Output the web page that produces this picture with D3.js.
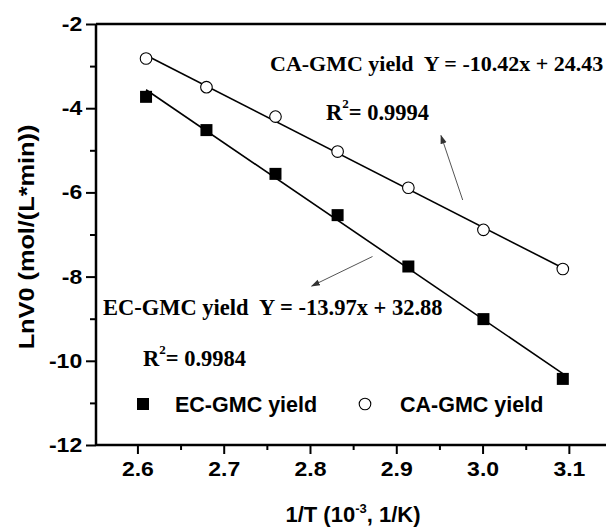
<!DOCTYPE html>
<html>
<head>
<meta charset="utf-8">
<script src="https://cdn.jsdelivr.net/npm/d3@7"></script>
<style>
  body { margin: 0; background: #fff; }
  svg { display: block; }
</style>
</head>
<body>
<div id="chart"></div>
<script>
// values
const invT = [2.610, 2.680, 2.760, 2.832, 2.914, 3.001, 3.093];
const ecYield = [-3.73, -4.52, -5.56, -6.54, -7.76, -9.01, -10.43];
const caYield = [-2.82, -3.50, -4.20, -5.03, -5.89, -6.89, -7.82];
const xTicks = [2.6, 2.7, 2.8, 2.9, 3.0, 3.1];
const xMinor = [2.65, 2.75, 2.85, 2.95, 3.05, 3.15];
const yTicks = [-12, -10, -8, -6, -4, -2];
const yMinor = [-11, -9, -7, -5, -3];
const seriesNames = ["EC-GMC yield", "CA-GMC yield"];

const svg = d3.select("#chart")
    .append("svg")
        .attr("width", 606)
        .attr("height", 529);

const x = d3.scaleLinear().domain([2.552, 3.15]).range([96, 612]);
const y = d3.scaleLinear().domain([-12, -2]).range([445, 24]);

// least squares line through the points
function fit(xs, ys) {
    const mx = d3.mean(xs), my = d3.mean(ys);
    let sxy = 0, sxx = 0;
    xs.forEach((v, i) => { sxy += (v - mx) * (ys[i] - my); sxx += (v - mx) * (v - mx); });
    const b = sxy / sxx;
    return { slope: b, icpt: my - b * mx };
}

// frame (right side falls outside the picture)
svg.append("line")
    .attr("x1", 96).attr("x2", 612).attr("y1", 24).attr("y2", 24)
    .attr("stroke", "black").attr("stroke-width", 2.5);

// axes
const xAxis = svg.append("g")
    .attr("transform", "translate(0,445)")
    .call(d3.axisBottom(x).tickValues(xTicks).tickFormat(d => d.toFixed(1)).tickSize(9).tickPadding(8));
svg.append("g")
    .attr("transform", "translate(0,445)")
    .call(d3.axisBottom(x).tickValues(xMinor).tickFormat("").tickSize(5))
    .select(".domain").remove();

const yAxis = svg.append("g")
    .attr("transform", "translate(96,0)")
    .call(d3.axisLeft(y).tickValues(yTicks).tickFormat(d => String(d)).tickSize(10).tickPadding(5));
svg.append("g")
    .attr("transform", "translate(96,0)")
    .call(d3.axisLeft(y).tickValues(yMinor).tickFormat("").tickSize(6))
    .select(".domain").remove();

xAxis.select(".domain").attr("d", "M96,0H612").attr("stroke-width", 2.5);
yAxis.select(".domain").attr("d", "M0,445V24").attr("stroke-width", 2.5);
svg.selectAll(".tick line").attr("stroke-width", 2);

xAxis.selectAll(".tick text")
    .attr("font-family", "Liberation Sans, Arial, sans-serif")
    .attr("font-weight", "bold")
    .attr("font-size", 20)
    .attr("transform", "scale(1.15,1)");
yAxis.selectAll(".tick text")
    .attr("font-family", "Liberation Sans, Arial, sans-serif")
    .attr("font-weight", "bold")
    .attr("font-size", 20)
    .attr("x", -12)
    .attr("transform", "scale(1.15,1)");

// fitted lines
const lineGen = d3.line().x(d => x(d[0])).y(d => y(d[1]));
[ecYield, caYield].forEach(vals => {
    const f = fit(invT, vals);
    const x0 = d3.min(invT), x1 = d3.max(invT);
    svg.append("path")
        .attr("d", lineGen([[x0, f.icpt + f.slope * x0], [x1, f.icpt + f.slope * x1]]))
        .attr("fill", "none")
        .attr("stroke", "black")
        .attr("stroke-width", 1.6);
});

// markers
svg.selectAll("rect.ec")
    .data(invT.map((v, i) => [v, ecYield[i]]))
    .enter()
    .append("rect")
        .attr("class", "ec")
        .attr("x", d => x(d[0]) - 6)
        .attr("y", d => y(d[1]) - 6)
        .attr("width", 12)
        .attr("height", 12)
        .attr("fill", "black");

svg.selectAll("circle.ca")
    .data(invT.map((v, i) => [v, caYield[i]]))
    .enter()
    .append("circle")
        .attr("class", "ca")
        .attr("cx", d => x(d[0]))
        .attr("cy", d => y(d[1]))
        .attr("r", 5.8)
        .attr("fill", "white")
        .attr("stroke", "black")
        .attr("stroke-width", 1.1);

// annotations
const serif = "Liberation Serif, Times New Roman, serif";
svg.append("text")
    .attr("x", 270).attr("y", 71)
    .attr("font-family", serif).attr("font-weight", "bold").attr("font-size", 22)
    .attr("xml:space", "preserve")
    .text("CA-GMC yield  Y = -10.42x + 24.43");
const r1 = svg.append("text")
    .attr("x", 326).attr("y", 120)
    .attr("font-family", serif).attr("font-weight", "bold").attr("font-size", 22.5);
r1.append("tspan").text("R");
r1.append("tspan").attr("dy", -12).attr("font-size", 13).text("2");
r1.append("tspan").attr("dy", 12).text("= 0.9994");

svg.append("text")
    .attr("x", 103).attr("y", 315)
    .attr("font-family", serif).attr("font-weight", "bold").attr("font-size", 22.5)
    .attr("xml:space", "preserve")
    .text("EC-GMC yield  Y = -13.97x + 32.88");
const r2 = svg.append("text")
    .attr("x", 143).attr("y", 366)
    .attr("font-family", serif).attr("font-weight", "bold").attr("font-size", 22.5);
r2.append("tspan").text("R");
r2.append("tspan").attr("dy", -12).attr("font-size", 13).text("2");
r2.append("tspan").attr("dy", 12).text("= 0.9984");

// arrows
svg.append("defs").append("marker")
    .attr("id", "head")
    .attr("viewBox", "0 0 10 10")
    .attr("refX", 9).attr("refY", 5)
    .attr("markerWidth", 9).attr("markerHeight", 9)
    .attr("markerUnits", "userSpaceOnUse")
    .attr("orient", "auto")
    .append("path")
        .attr("d", "M0,1.5L10,5L0,8.5Z")
        .attr("fill", "#333");
svg.append("line")
    .attr("x1", 462.7).attr("y1", 200).attr("x2", 441).attr("y2", 135.5)
    .attr("stroke", "#555").attr("stroke-width", 1)
    .attr("marker-end", "url(#head)");
svg.append("line")
    .attr("x1", 372.5).attr("y1", 256.5).attr("x2", 311.7).attr("y2", 286)
    .attr("stroke", "#555").attr("stroke-width", 1)
    .attr("marker-end", "url(#head)");

// legend
const sans = "Liberation Sans, Arial, sans-serif";
svg.append("rect")
    .attr("x", 137).attr("y", 398).attr("width", 12).attr("height", 12)
    .attr("fill", "black");
svg.append("text")
    .attr("x", 175).attr("y", 412)
    .attr("font-family", sans).attr("font-weight", "bold").attr("font-size", 21.5)
    .text(seriesNames[0]);
svg.append("circle")
    .attr("cx", 365).attr("cy", 404).attr("r", 5.8)
    .attr("fill", "white").attr("stroke", "black").attr("stroke-width", 1.1);
svg.append("text")
    .attr("x", 400).attr("y", 412)
    .attr("font-family", sans).attr("font-weight", "bold").attr("font-size", 21.5)
    .text(seriesNames[1]);

// axis titles
const xt = svg.append("text")
    .attr("x", 353).attr("y", 522)
    .attr("text-anchor", "middle")
    .attr("font-family", sans).attr("font-weight", "bold").attr("font-size", 22);
xt.append("tspan").text("1/T (10");
xt.append("tspan").attr("dy", -9).attr("font-size", 13).text("-3");
xt.append("tspan").attr("dy", 9).text(", 1/K)");

svg.append("text")
    .attr("transform", "translate(34,237) rotate(-90) scale(1.15,1)")
    .attr("text-anchor", "middle")
    .attr("font-family", sans).attr("font-weight", "bold").attr("font-size", 22)
    .text("LnV0 (mol/(L*min))");
</script>
</body>
</html>
